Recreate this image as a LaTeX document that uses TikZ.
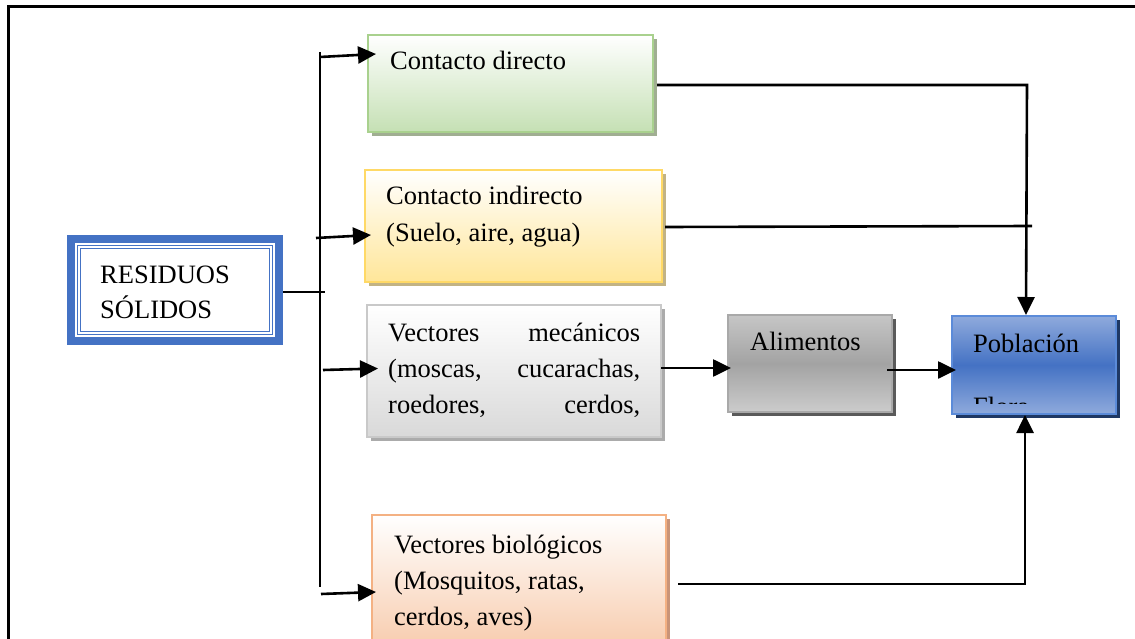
\documentclass[tikz,border=0pt]{standalone}
\usepackage{fontspec}
\setmainfont{Liberation Serif}
\usetikzlibrary{arrows.meta}
\definecolor{blueR}{HTML}{4472C4}
\definecolor{greenB}{HTML}{A9D18E}
\definecolor{greenF}{HTML}{C5E0B4}
\definecolor{greenS}{HTML}{A0AE92}
\definecolor{yelB}{HTML}{FFD966}
\definecolor{yelF}{HTML}{FFE699}
\definecolor{yelS}{HTML}{C2B384}
\definecolor{grayB}{HTML}{C9C9C9}
\definecolor{grayF}{HTML}{D9D9D9}
\definecolor{grayS}{HTML}{ABABAB}
\definecolor{aliB}{HTML}{A9A9A9}
\definecolor{aliT}{HTML}{C6C6C6}
\definecolor{aliM}{HTML}{A3A3A3}
\definecolor{aliS}{HTML}{5A5A5A}
\definecolor{pobB}{HTML}{5B8BD9}
\definecolor{pobT}{HTML}{8FAADC}
\definecolor{pobS}{HTML}{1F3864}
\definecolor{oraB}{HTML}{F4B183}
\definecolor{oraF}{HTML}{F7C9A9}
\definecolor{oraS}{HTML}{C99478}
\begin{document}
\begin{tikzpicture}[x=1pt,y=-1pt,
  conn/.style={line width=2.6pt},
  trunk/.style={line width=2.3pt},
  arr/.style={line width=2.6pt,-{Triangle[length=18pt,width=17pt]}},
  lbl/.style={anchor=base west,inner sep=0pt,font=\fontsize{26.5}{36}\selectfont},
  box/.style={anchor=north west,inner sep=0pt,outer sep=0pt,line width=1.8pt}]
\useasboundingbox (0,0) rectangle (1135,639);
% frame
\draw[line width=3pt] (8,640) -- (8,7) -- (1135,7);

% RESIDUOS SOLIDOS
\node[box,fill=blueR,minimum width=216pt,minimum height=110pt] (rs) at (67,235) {};
\node[box,fill=white,minimum width=200pt,minimum height=94pt] (rsin) at (75,243) {};
\draw[blueR,line width=1pt] (77.5,245.5) rectangle (272.5,334.5);
\draw[blueR,line width=1.2pt] (80.5,248.5) rectangle (269.5,331.5);
\node[lbl] (rs1) at (100,283) {RESIDUOS};
\node[lbl] (rs2) at (100,318) {SÓLIDOS};

% shadows
\fill[greenS] (372,39) rectangle (657,136);
\fill[yelS] (369,174) rectangle (666,286);
\fill[grayS] (371,309) rectangle (665,441);
\fill[aliS] (732,319) rectangle (896,416);
\fill[pobS] (956,320) rectangle (1120,418);
\fill[oraS] (376,519) rectangle (670,660);

% Contacto directo
\node[box,draw=greenB,top color=white,bottom color=greenF,
  minimum width=285pt,minimum height=97pt] (cd) at (368,35) {};
\node[lbl] (cdt) at (390,70) {Contacto directo};

% Contacto indirecto
\node[box,draw=yelB,top color=white,bottom color=yelF,
  minimum width=297pt,minimum height=112pt] (ci) at (365,170) {};
\node[lbl] (ci1) at (386,205) {Contacto indirecto};
\node[lbl] (ci2) at (386,241) {(Suelo, aire, agua)};

% Vectores mecanicos
\node[box,draw=grayB,top color=white,bottom color=grayF,
  minimum width=294pt,minimum height=132pt] (vm) at (367,305) {};
\node[lbl] (vm1) at (388,341) {\hbox to 252pt{Vectores\hfill mecánicos}};
\node[lbl] (vm2) at (388,377) {\hbox to 252pt{(moscas,\hfill cucarachas,}};
\node[lbl] (vm3) at (388,413) {\hbox to 252pt{roedores,\hfill cerdos,}};

% Alimentos
\node[box,draw=aliB,top color=aliT,bottom color=aliT!90!white,middle color=aliM,
  minimum width=164pt,minimum height=97pt] (al) at (728,315) {};
\node[lbl] (alt) at (750,350) {Alimentos};

% Poblacion
\node[box,draw=pobB,top color=pobT,bottom color=pobT,middle color=blueR,
  minimum width=164pt,minimum height=98pt] (po) at (952,316) {};
\node[lbl] (pot) at (973,352) {Población};
\begin{scope}
\clip (952,316) rectangle (1116,403.5);
\node[lbl] (pof) at (973,415) {Flora};
\end{scope}

% Vectores biologicos
\node[box,draw=oraB,top color=white,bottom color=oraF,
  minimum width=294pt,minimum height=140pt] (vb) at (372,515) {};
\node[lbl] (vb1) at (394,553) {Vectores biológicos};
\node[lbl] (vb2) at (394,589) {(Mosquitos, ratas,};
\node[lbl] (vb3) at (394,625) {cerdos, aves)};

% connector points
\coordinate (rsOut) at (283,292);
\coordinate (trJ) at (325,292);
\coordinate (trTop) at (320,52);
\coordinate (trBot) at (320,587);
\coordinate (a1s) at (320,57);   \coordinate (a1e) at (376,54);
\coordinate (a2s) at (316,238);  \coordinate (a2e) at (371,235);
\coordinate (a3s) at (323,370);  \coordinate (a3e) at (378,368.5);
\coordinate (a4s) at (321,594);  \coordinate (a4e) at (376,592);
\coordinate (cdOut) at (657,85);
\coordinate (cdC) at (1027,85);
\coordinate (poTop) at (1026,315);
\coordinate (ciOut) at (665,227);
\coordinate (ciEnd) at (1032,226);
\coordinate (vmOut) at (661,368);
\coordinate (alIn) at (731,368);
\coordinate (alOut) at (887,370);
\coordinate (poIn) at (956,370);
\coordinate (vbOut) at (678,584);
\coordinate (vbC) at (1025,584);
\coordinate (poBot) at (1025,415);

% connectors
\draw[conn] (rsOut) -- (trJ);
\draw[trunk] (trTop) -- (trBot);
\draw[arr] (a1s) -- (a1e);
\draw[arr] (a2s) -- (a2e);
\draw[arr] (a3s) -- (a3e);
\draw[arr] (a4s) -- (a4e);
\draw[arr] (cdOut) -- (cdC) -- (poTop);
\draw[conn] (ciOut) -- (ciEnd);
\draw[arr] (vmOut) -- (alIn);
\draw[arr] (alOut) -- (poIn);
\draw[arr] (vbOut) -- (vbC) -- (poBot);
\end{tikzpicture}
\end{document}
